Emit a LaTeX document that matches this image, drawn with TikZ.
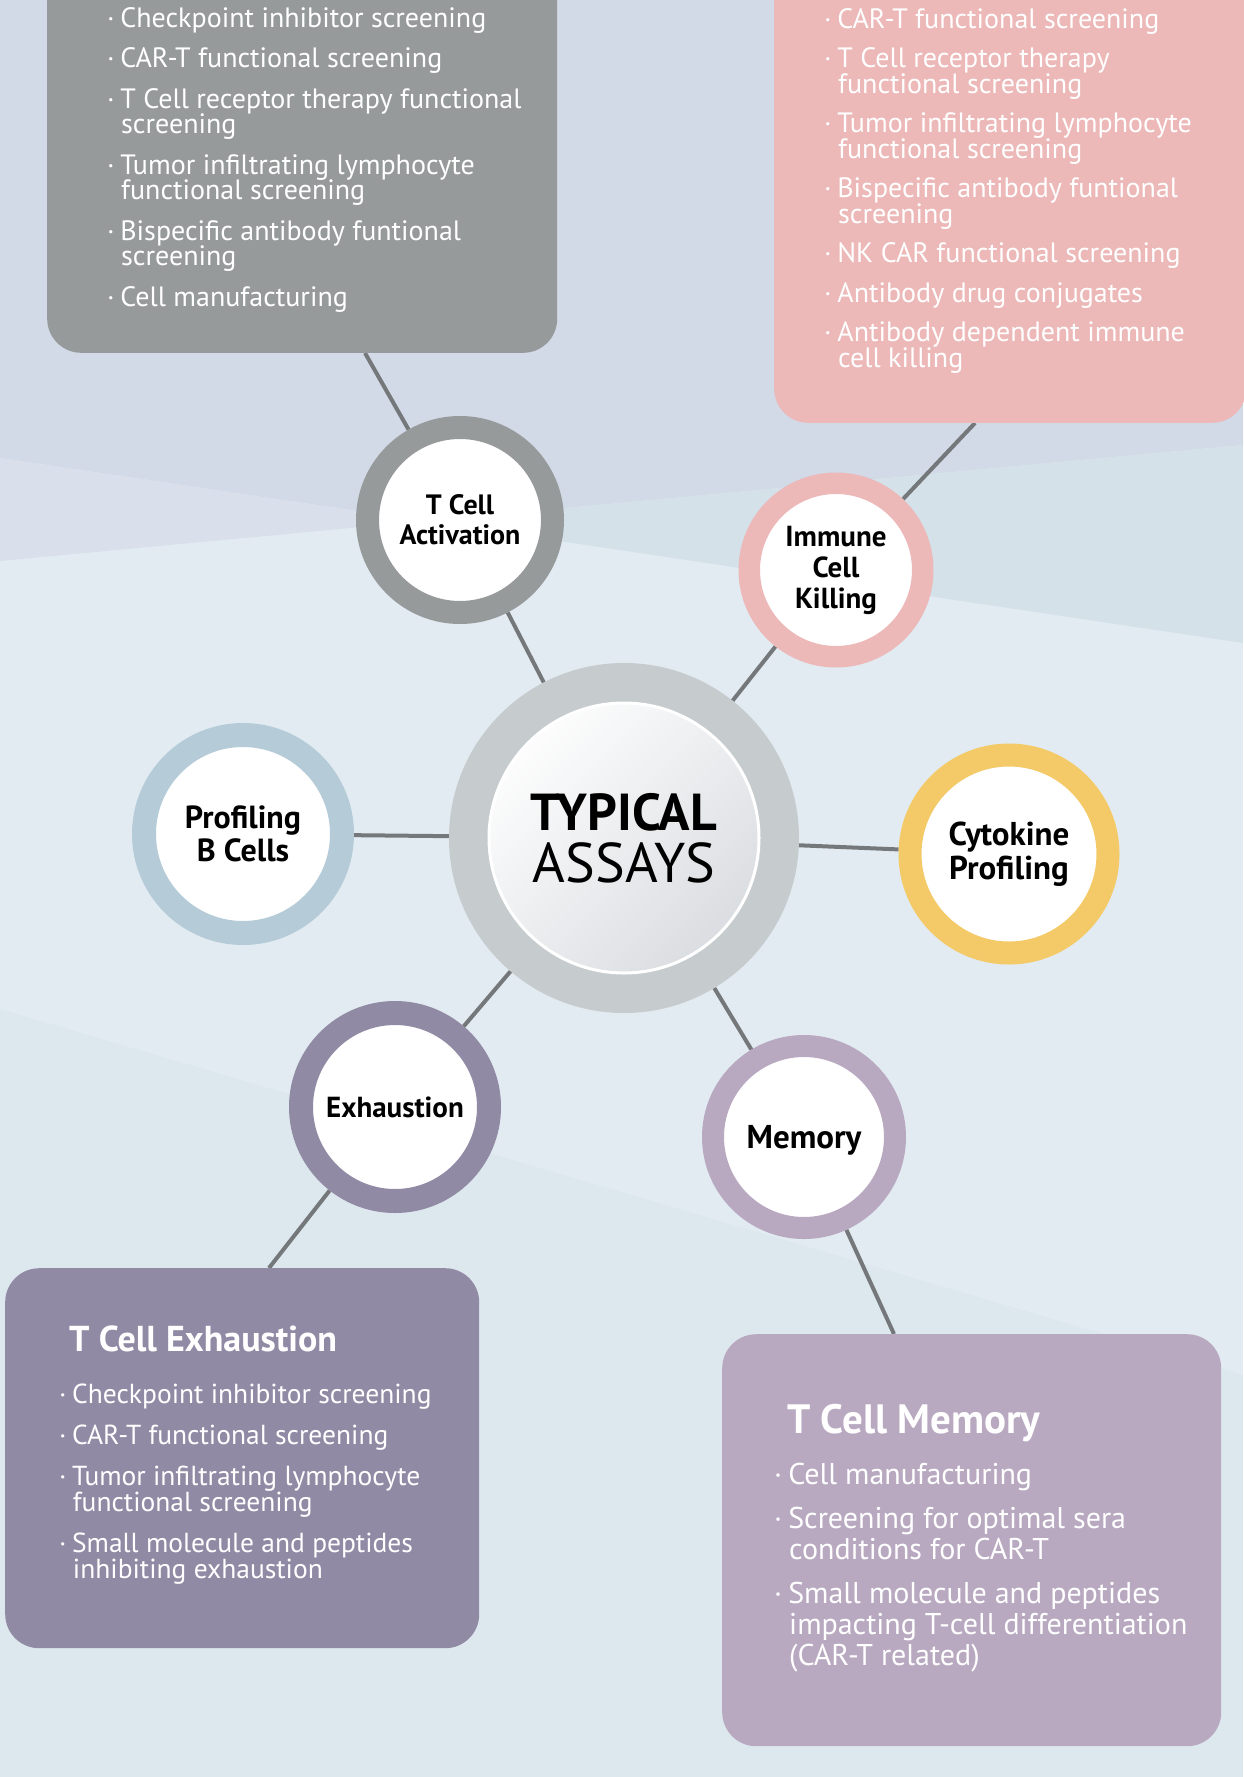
\documentclass[tikz,border=0pt]{standalone}
\usepackage{fontspec}
\setmainfont{PT Sans}
\usetikzlibrary{backgrounds}

\definecolor{bgtop}{HTML}{D2D9E7}
\definecolor{bgleft}{HTML}{DAE0EB}
\definecolor{bgright}{HTML}{D4E1E9}
\definecolor{bgmid}{HTML}{E2EBF1}
\definecolor{bglow}{HTML}{DDE8EE}
\definecolor{linkc}{HTML}{75787A}
\definecolor{hubc}{HTML}{C6CBCE}
\definecolor{hubshade}{HTML}{D8DBDF}
\definecolor{actc}{HTML}{969A9A}
\definecolor{killc}{HTML}{ECB8B8}
\definecolor{bprofc}{HTML}{B5CCD8}
\definecolor{cytoc}{HTML}{F4CA68}
\definecolor{exhc}{HTML}{918AA5}
\definecolor{memc}{HTML}{B8A9C1}

\newcommand\bul{\makebox[0.47em][l]{\rule{0pt}{0.78em}·}}
\newcommand\ind{\hspace*{0.5em}}

\begin{document}
\begin{tikzpicture}[x=1pt,y=-1pt,
  ring/.style={circle,fill=white,inner sep=0pt,align=center},
  infobox/.style={rounded corners=34pt,inner sep=0pt},
  listtext/.style={anchor=north west,align=left,text=white,inner sep=0pt},
  boxtitle/.style={anchor=base west,text=white,inner sep=0pt,
    font=\bfseries\fontsize{36}{36}\selectfont},
  link/.style={draw=linkc,line width=4pt}]

  \useasboundingbox (0,0) rectangle (1243,1777);

  % info boxes
  \node[infobox,fill=actc,minimum width=510pt,minimum height=393pt,anchor=south west] (actbox) at (47,353) {};
  \node[infobox,fill=killc,minimum width=472pt,minimum height=463pt,anchor=south west] (killbox) at (774,423) {};
  \node[infobox,fill=exhc,minimum width=474pt,minimum height=380pt,anchor=north west] (exhbox) at (5,1268) {};
  \node[infobox,fill=memc,minimum width=499pt,minimum height=412pt,anchor=north west] (membox) at (722,1334) {};

  \coordinate (actpin) at (365,353);
  \coordinate (killpin) at (975,423);
  \coordinate (exhpin) at (269,1268);
  \coordinate (mempin) at (894,1334);

  % hub and assays
  \node[circle,draw=hubc,line width=39pt,minimum size=311pt,inner sep=0pt,
    top color=white,bottom color=hubshade,shading angle=45,align=center,
    font={\fontsize{52}{52}\selectfont\lineskiplimit=-30pt}] (hub) at (624,838)
    {\bfseries TYPICAL\\\fontsize{56}{52}\selectfont ASSAYS};
  \draw[white,line width=3pt] (hub.center) circle[radius=135pt];

  \node[ring,draw=actc,line width=23pt,minimum size=185pt,
    font=\bfseries\fontsize{28}{30}\selectfont] (tcell) at (460,520) {T Cell\\Activation};
  \node[ring,draw=killc,line width=21.5pt,minimum size=173.5pt,
    font=\bfseries\fontsize{29}{31}\selectfont] (immune) at (836,570) {Immune\\Cell\\Killing};
  \node[ring,draw=bprofc,line width=24pt,minimum size=198pt,
    font=\bfseries\fontsize{32}{33}\selectfont] (bprof) at (243,834) {Profiling\\B Cells};
  \node[ring,draw=cytoc,line width=23pt,minimum size=198pt,
    font=\bfseries\fontsize{33}{34}\selectfont] (cyto) at (1009,854) {Cytokine\\Profiling};
  \node[ring,draw=exhc,line width=24pt,minimum size=188pt,
    font=\bfseries\fontsize{29}{32}\selectfont] (exh) at (395,1107) {Exhaustion};
  \node[ring,draw=memc,line width=22pt,minimum size=182pt,text depth=0pt,
    font=\bfseries\fontsize{33}{34}\selectfont] (mem) at (804,1137) {Memory};

  % box texts
  \node[listtext,font={\fontsize{28}{25.5}\selectfont\lineskiplimit=-30pt}] (actlist) at (107,5.2) {%
    \bul Checkpoint inhibitor screening\\[15pt]
    \bul CAR-T functional screening\\[15pt]
    \bul T Cell receptor therapy functional\\
    \ind screening\\[15pt]
    \bul Tumor infiltrating lymphocyte\\
    \ind functional screening\\[15pt]
    \bul Bispecific antibody funtional\\
    \ind screening\\[15pt]
    \bul Cell manufacturing};

  \node[listtext,font={\fontsize{28}{25.5}\selectfont\lineskiplimit=-30pt}] (killlist) at (824,6.2) {%
    \bul CAR-T functional screening\\[14pt]
    \bul T Cell receptor therapy\\
    \ind functional screening\\[14pt]
    \bul Tumor infiltrating lymphocyte\\
    \ind functional screening\\[14pt]
    \bul Bispecific antibody funtional\\
    \ind screening\\[14pt]
    \bul NK CAR functional screening\\[14pt]
    \bul Antibody drug conjugates\\[14pt]
    \bul Antibody dependent immune\\
    \ind cell killing};

  \node[boxtitle] (exhtitle) at (69,1351) {T Cell Exhaustion};
  \node[listtext,font={\fontsize{27.5}{26}\selectfont\lineskiplimit=-30pt}] (exhlist) at (59,1381.5) {%
    \bul Checkpoint inhibitor screening\\[15pt]
    \bul CAR-T functional screening\\[15pt]
    \bul Tumor infiltrating lymphocyte\\
    \ind functional screening\\[15pt]
    \bul Small molecule and peptides\\
    \ind inhibiting exhaustion};

  \node[boxtitle,font=\bfseries\fontsize{41}{41}\selectfont] (memtitle) at (787,1433) {T Cell Memory};
  \node[listtext,font={\fontsize{30}{31}\selectfont\lineskiplimit=-30pt}] (memlist) at (774,1460.6) {%
    \bul Cell manufacturing\\[13pt]
    \bul Screening for optimal sera\\
    \ind conditions for CAR-T\\[13pt]
    \bul Small molecule and peptides\\
    \ind impacting T-cell differentiation\\
    \ind (CAR-T related)};

  \begin{scope}[on background layer]
    \fill[bgmid] (0,0) rectangle (1243,1777);
    \fill[bgtop] (0,0) -- (1243,0) -- (1243,445) -- (425,521) -- (0,458) -- cycle;
    \fill[bgleft] (0,458) -- (425,521) -- (0,561) -- cycle;
    \fill[bgright] (1243,445) -- (425,521) -- (1243,643) -- cycle;
    \fill[bglow] (0,1009) -- (1243,1375) -- (1243,1777) -- (0,1777) -- cycle;

    \path[link] (hub) -- (tcell) -- (actpin);
    \path[link] (hub) -- (immune) -- (killpin);
    \path[link] (hub) -- (bprof);
    \path[link] (hub) -- (cyto);
    \path[link] (hub) -- (exh) -- (exhpin);
    \path[link] (hub) -- (mem) -- (mempin);
  \end{scope}
\end{tikzpicture}
\end{document}
